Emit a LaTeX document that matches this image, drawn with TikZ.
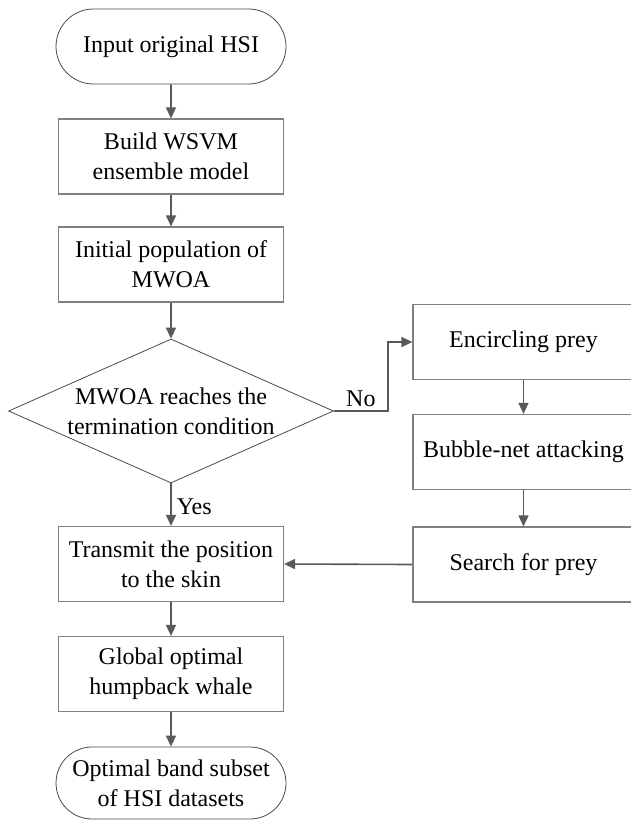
\documentclass[tikz,border=0pt]{standalone}
\usepackage{fontspec}
\setmainfont{Liberation Serif}
\usetikzlibrary{shapes.geometric,shapes.misc,arrows.meta}
\definecolor{boxgray}{HTML}{808080}
\definecolor{edgegray}{HTML}{4A4A4A}
\definecolor{arrowgray}{HTML}{595959}
\begin{document}
\begin{tikzpicture}[x=1pt,y=-1pt,
		font=\fontsize{24}{30}\selectfont,
		procbox/.style={draw=boxgray, line width=1.2pt, shape=rectangle, minimum width=225pt, minimum height=75pt, inner sep=0, align=center},
		sidebox/.style={procbox, minimum width=221pt},
		termbox/.style={draw=edgegray, line width=0.8pt, shape=rounded rectangle, minimum width=230pt, minimum height=75pt, inner sep=0, align=center},
		testbox/.style={draw=edgegray, line width=0.8pt, shape=diamond, aspect=2.26, minimum width=325pt, minimum height=144pt, inner sep=-12pt, align=center},
		flow/.style={draw=arrowgray, line width=1.6pt, -{Triangle[length=11pt,width=10pt]}}]
			\useasboundingbox (0,0) rectangle (631,820);
			% main column
			\node[termbox] (start) at (171,46.5){Input original HSI};
			\node[procbox] (wsvm) at (171,156.5){Build WSVM\\ensemble model};
			\node[procbox] (init) at (171,264.5){Initial population of\\MWOA};
			\node[testbox] (stop) at (171,411){MWOA reaches the\\termination condition};
			\node[procbox] (skin) at (171,564){Transmit the position\\to the skin};
			\node[procbox] (best) at (171,674){Global optimal\\humpback whale};
			\node[termbox, minimum height=72pt] (bands) at (171,783){Optimal band subset\\of HSI datasets};
			% loop column
			\node[sidebox] (circ) at (523.5,342){Encircling prey};
			\node[sidebox] (bubble) at (523.5,452){Bubble-net attacking};
			\node[sidebox] (search) at (523.5,564.5){Search for prey};
			\draw[flow] (start) -- (wsvm);
			\draw[flow] (wsvm) -- (init);
			\draw[flow] (init) -- (stop);
			\draw[flow] (stop) -- node[right, inner sep=5pt, pos=0.55]{Yes} (skin);
			\draw[flow] (skin) -- (best);
			\draw[flow] (best) -- (bands);
			\draw[flow] (stop.east) -- node[above, inner sep=3pt]{No} ++(54,0) |- (circ.west);
			\draw[flow] (circ) -- (bubble);
			\draw[flow] (bubble) -- (search);
			\draw[flow] (search.west) -- (skin.east);
		\end{tikzpicture}
\end{document}
